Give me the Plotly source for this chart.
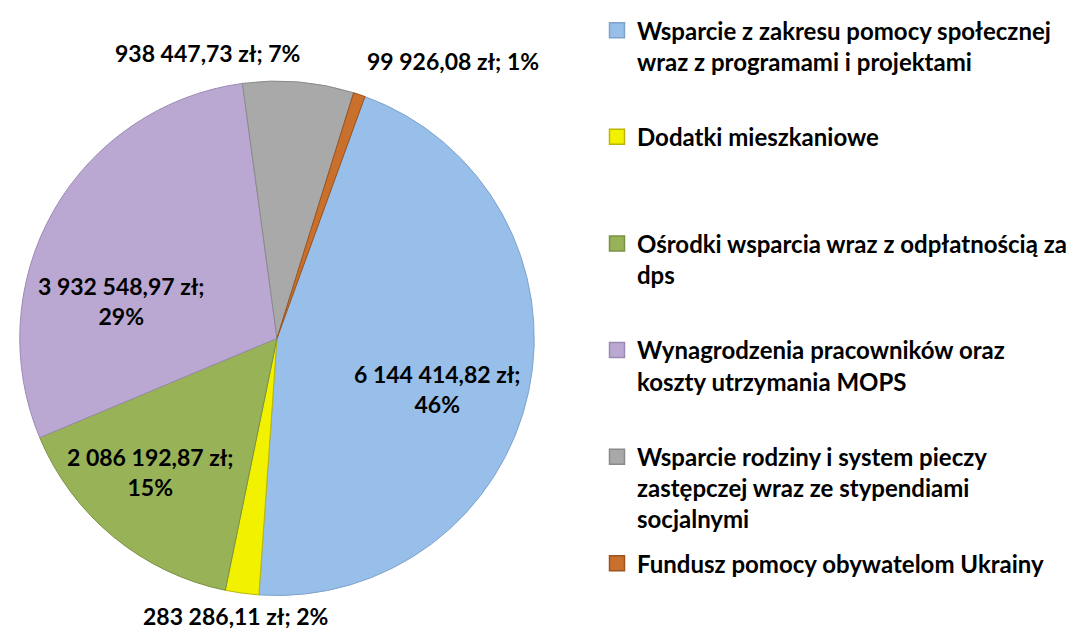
import plotly.graph_objects as go

categories = [
    "Wsparcie z zakresu pomocy społecznej<br>wraz z programami i projektami",
    "Dodatki mieszkaniowe",
    "Ośrodki wsparcia wraz z odpłatnością za<br>dps",
    "Wynagrodzenia pracowników oraz<br>koszty utrzymania MOPS",
    "Wsparcie rodziny i system pieczy<br>zastępczej wraz ze stypendiami<br>socjalnymi",
    "Fundusz pomocy obywatelom Ukrainy",
]
values = [6144414.82, 283286.11, 2086192.87, 3932548.97, 938447.73, 99926.08]
colors = ["#97bfea", "#f2f200", "#97b257", "#bba8d2", "#a9a9a9", "#c8702c"]
line_colors = ["#7fa3cc", "#b8b800", "#7a9145", "#9c8ab5", "#8a8a8a", "#9a5420"]
# label layout: two-line labels inside, one-line labels outside
label_two_lines = [True, False, True, True, False, False]

# the page body has an 8px margin: figure is sized to the visible area
OFF = 8
W, H = 1083 - OFF, 632 - OFF
# pie centre / radius in window pixels
cx, cy, r = 277 - OFF, 334 - OFF, 261
FONT = "Lato"

total = sum(values)


def fmt_pl(v):
    return f"{v:,.2f}".replace(",", " ").replace(".", ",")


fig = go.Figure()
fig.add_trace(go.Pie(
    labels=categories,
    values=values,
    sort=False,
    direction="clockwise",
    rotation=20,
    marker=dict(colors=colors, line=dict(color=line_colors, width=1)),
    textinfo="none",
    domain=dict(x=[(cx - r) / W, (cx + r) / W], y=[(H - cy - r) / H, (H - cy + r) / H]),
    hovertemplate="%{label}<br>%{value:,.2f} zł<extra></extra>",
    showlegend=False,
))

# legend entries (one group per category so that entries are evenly spaced)
n_lines = 3
for i, (c, col, lc) in enumerate(zip(categories, colors, line_colors)):
    k = c.count("<br>") + 1
    name = c + ("<br> " * (n_lines - k) if i < len(categories) - 1 else "")
    fig.add_trace(go.Scatter(
        x=[None], y=[None], mode="markers", name=name, legendgroup=f"g{i}",
        marker=dict(symbol="square", size=15, color=col, line=dict(color=lc, width=1.5)),
        showlegend=True, hoverinfo="skip",
    ))

# data labels (window pixel centres of each label block)
label_pos = [(437, 385), (235, None), (150, 470), (121, 296), (207, 45), (453, 53)]
for i, v in enumerate(values):
    sep = "<br>" if label_two_lines[i] else " "
    text = f"{fmt_pl(v)} zł;{sep}{round(v / total * 100)}%"
    px, py = label_pos[i]
    if py is None:
        yy, ya = 0, "bottom"
    else:
        yy, ya = 1 - (py - OFF) / H, "middle"
    fig.add_annotation(
        x=(px - OFF) / W, y=yy, xref="paper", yref="paper",
        text=text, showarrow=False, xanchor="center", yanchor=ya, align="center",
        font=dict(family=FONT, size=23, color="black", weight="bold"),
    )

fig.update_layout(
    width=W, height=H,
    margin=dict(l=0, r=0, t=0, b=0),
    paper_bgcolor="white",
    plot_bgcolor="white",
    xaxis=dict(visible=False),
    yaxis=dict(visible=False),
    showlegend=True,
    legend=dict(
        x=589 / W, y=1 + 9 / H, xanchor="left", yanchor="top",
        font=dict(family=FONT, size=24, color="black", weight="bold"),
        valign="top",
        tracegroupgap=10,
        itemsizing="trace",
        maxheight=1.0,
        bgcolor="rgba(0,0,0,0)",
    ),
)

fig.write_html("out.html")
